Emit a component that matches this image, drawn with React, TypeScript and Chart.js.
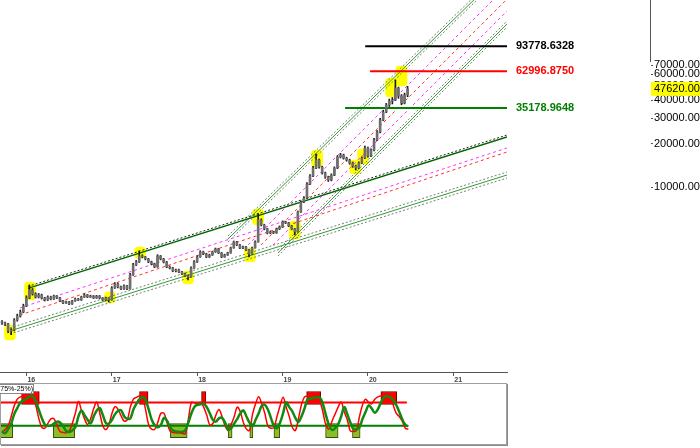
import React, { useEffect, useRef } from "react";
import { Chart, registerables } from "chart.js";
Chart.register(...registerables);

// ---- price candles (one per bar index) ----
const firstOpen = 1180;
const closes = [
  1157, 1138, 1019, 1035, 1213, 1293, 1378, 1515, 1721, 1954,
  1834, 1748, 1805, 1721, 1667, 1748, 1694, 1776, 1721, 1641,
  1589, 1615, 1564, 1641, 1694, 1667, 1748, 1805, 1748, 1776,
  1721, 1776, 1721, 1667, 1721, 1667, 2018, 2150, 2050, 1986,
  2083, 1986, 2480, 2908, 3050, 3355, 3302, 3198, 3050, 2954,
  2817, 3355, 3198, 3050, 2817, 2772, 2643, 2685, 2601, 2520,
  2441, 2402, 2772, 3050, 3302, 3575, 3463, 3302, 3408, 3575,
  3749, 3518, 3302, 3408, 3518, 3809, 4190, 3995, 3809, 3870,
  3690, 3463, 3809, 4190, 5943, 5489, 5151, 4834, 4911, 4834,
  5151, 5318, 5757, 5666, 5403, 5151, 4911, 6748, 7900, 8419,
  10510, 11936, 13553, 15390, 13770, 12519, 11748, 11200, 12127, 13553,
  16142, 16662, 15887, 15390, 14674, 13991, 13553, 14674, 15887, 18626,
  16400, 18040, 21150, 24015, 29060, 32995, 36871, 39291, 39920, 48305,
  42536, 38063, 43216, 47620,
];
const highs = [
  1200, 1175, 1150, 1060, 1240, 1330, 1420, 1560, 1780, 2116,
  2000, 1870, 1850, 1830, 1740, 1780, 1770, 1800, 1790, 1740,
  1660, 1640, 1630, 1660, 1720, 1710, 1770, 1840, 1820, 1800,
  1790, 1795, 1790, 1735, 1745, 1730, 2060, 2200, 2180, 2080,
  2120, 2100, 2540, 2980, 3120, 3632, 3420, 3330, 3230, 3090,
  2990, 3420, 3380, 3230, 3080, 2860, 2800, 2720, 2720, 2630,
  2550, 2470, 2820, 3110, 3360, 3640, 3620, 3500, 3450, 3620,
  3800, 3780, 3550, 3450, 3560, 3860, 4250, 4230, 4030, 3920,
  3900, 3720, 3860, 4260, 6537, 6050, 5550, 5200, 4980, 4960,
  5220, 5400, 5850, 5820, 5720, 5450, 5200, 6850, 8050, 8600,
  10750, 12200, 13900, 16930, 15600, 13950, 12700, 11900, 12350, 13800,
  16500, 17100, 16900, 16100, 15600, 14900, 14200, 14950, 16200, 19200,
  18900, 18400, 21700, 24600, 29800, 33900, 37800, 40500, 41500, 54850,
  49000, 43500, 44500, 49500,
];
const lows = [
  1130, 1110, 990, 960, 1020, 1190, 1270, 1360, 1500, 1700,
  1800, 1720, 1720, 1690, 1640, 1650, 1670, 1680, 1700, 1620,
  1570, 1575, 1545, 1550, 1630, 1650, 1655, 1735, 1730, 1735,
  1705, 1710, 1700, 1650, 1655, 1615, 1660, 2000, 2020, 1960,
  1970, 1960, 1975, 2460, 2880, 3020, 3250, 3150, 3010, 2910,
  2780, 2800, 3150, 3000, 2780, 2730, 2610, 2600, 2570, 2490,
  2410, 2291, 2390, 2750, 3020, 3280, 3420, 3260, 3270, 3380,
  3550, 3480, 3260, 3280, 3380, 3500, 3790, 3950, 3770, 3770,
  3650, 3302, 3440, 3790, 4170, 5400, 5080, 4760, 4770, 4780,
  4800, 5100, 5280, 5600, 5340, 5080, 4683, 4890, 6700, 7800,
  8350, 10400, 11800, 13400, 13500, 12300, 11500, 10950, 11050, 12000,
  13400, 15900, 15600, 15100, 14400, 13700, 13130, 13400, 14500, 15700,
  16100, 16200, 17800, 20900, 23700, 28700, 32600, 36000, 37500, 39500,
  41000, 37000, 37500, 42000,
];
const lastPrice = 47620;

// ---- stochastic oscillator ----
const stochK = [
  10, 17, 25, 45, 68, 82, 87, 88, 89, 89,
  86, 70, 42, 22, 20, 30, 40, 40, 26, 13,
  11, 10, 14, 30, 52, 77, 58, 40, 28, 40,
  62, 76, 52, 25, 17, 28, 52, 66, 60, 46,
  35, 38, 65, 82, 86, 89, 85, 59, 27, 18,
  18, 33, 52, 52, 32, 14, 11, 10, 10, 9,
  8, 40, 75, 74, 73, 75, 65, 48, 27, 30,
  48, 60, 45, 25, 15, 28, 45, 65, 55, 32,
  18, 15, 50, 72, 87, 72, 52, 25, 20, 22,
  45, 68, 86, 65, 45, 22, 15, 40, 70, 87,
  89, 88, 86, 85, 78, 55, 27, 18, 35, 50,
  65, 76, 55, 38, 14, 13, 15, 45, 70, 82,
  75, 72, 82, 87, 89, 90, 90, 86, 70, 52,
  45, 35, 20, 18,
];
const stochD = [
  14, 9, 18, 30, 50, 63, 75, 79, 83, 88,
  89, 78, 60, 42, 28, 25, 26, 30, 34, 32,
  24, 14, 12, 15, 22, 45, 58, 48, 38, 30,
  45, 58, 63, 48, 31, 30, 38, 50, 57, 58,
  45, 40, 41, 60, 72, 82, 87, 80, 60, 38,
  26, 22, 27, 42, 36, 22, 15, 13, 12.5, 12,
  16, 32, 52, 66, 70, 71, 72.6, 65, 52, 38,
  34, 41, 42, 32, 17, 20, 30, 40, 52, 58,
  45, 32, 24, 38, 52, 68, 70, 60, 42, 25,
  20, 32, 52, 75, 65, 56, 42, 33, 45, 62,
  82, 83, 85, 86, 86, 72, 48, 27, 16, 20,
  28, 45, 65, 50, 32, 18, 18, 22, 40, 55,
  69, 62, 53, 60, 75, 86, 89, 86, 80, 70,
  55, 39, 27, 24,
];
const oscUpperLevel = 75;
const oscLowerLevel = 25;
const oscLevelEnd = 132.5;
const obStart = [6.4, 45, 65.3, 99.7, 124];
const obEnd = [12.2, 47.8, 66.7, 104.3, 129.2];
const osStart = [-0.7, 16.8, 55.1, 74, 81.1, 89, 105.9, 114.7];
const osEnd = [3.5, 23.8, 60.6, 75.3, 82.1, 90.9, 110, 117.2];

// ---- axes ----
const xMin = -0.66;
const xMax = 165.6;
const yMin = 531;
const yMax = 195300;
const oscMin = 4.4;
const oscMax = 94.1;
const xTickIdx = [8, 36, 64, 92, 120, 148];
const xTickLabels = ["16", "17", "18", "19", "20", "21"];
const yTickValues = [10000, 20000, 30000, 40000, 50000, 60000, 70000];

// ---- horizontal levels ----
const levelValues = [93778.6328, 62996.875, 35178.9648];
const levelStart = [119.1, 120.7, 112.5];
const levelColors = ["#000000", "#ff0000", "#008000"];

// ---- highlighted swing points (index, low, high) ----
const hlIdx = [2.6, 9.2, 35.4, 45.3, 61, 81.3, 84, 96, 103.3, 115.8, 118.4, 127.6, 131];
const hlLo = [883, 1667, 1589, 3248, 2149, 3048, 5484, 4391, 13775, 12327, 14450, 41860, 49850];
const hlHi = [1120, 2218, 1893, 3868, 2642, 3807, 7070, 5844, 18040, 15390, 18330, 56610, 68480];

// ---- trend channels [x0, price0, x1, price1] ----
const c1Upper = [8.5, 2001, 165.6, 22182];
const c1UpperEdge = [8.5, 2066, 165.6, 22890];
const c1Pink = [5.9, 1468, 165.6, 18630];
const c1Red = [5.9, 1314, 165.6, 17480];
const c1Lower = [2.6, 1019, 165.6, 12130];
const c1LowerEdgeA = [2.6, 1069, 165.6, 12720];
const c1LowerEdgeB = [2.6, 971, 165.6, 11567];
const c2Upper = [74.1, 4391, 158.1, 228900];
const c2UpperEdgeA = [74.1, 4605, 158.1, 240200];
const c2UpperEdgeB = [74.1, 4187, 158.1, 218300];
const c2Pink1 = [80.7, 3992, 164.3, 228900];
const c2Red = [84.9, 3992, 168.6, 228900];
const c2Pink2 = [88.9, 3992, 172.5, 228900];
const c2Lower = [90.5, 3516, 165.6, 133500];
const c2LowerEdgeA = [90.5, 3687, 165.6, 139960];
const c2LowerEdgeB = [90.5, 3353, 165.6, 127200];

const FONT = '"Liberation Sans", Arial, sans-serif';

function seg(arr: number[], color: string, width: number, dash: number[], order: number) {
  return {
    type: "line" as const,
    data: [
      { x: arr[0], y: arr[1] },
      { x: arr[2], y: arr[3] },
    ],
    borderColor: color,
    borderWidth: width,
    borderDash: dash,
    pointRadius: 0,
    fill: false,
    tension: 0,
    order,
  };
}

export default function App() {
  const mainRef = useRef<HTMLCanvasElement | null>(null);
  const oscRef = useRef<HTMLCanvasElement | null>(null);

  useEffect(() => {
    if (!mainRef.current || !oscRef.current) return;
    const opens = closes.map((c, i) => (i === 0 ? firstOpen : closes[i - 1]));
    const green = "#2f9e2f";
    const gray = "#7a7a7a";
    const pink = "#ff33ff";
    const red = "#ff3030";

    const mainDatasets: any[] = [
      {
        type: "bar",
        data: hlIdx.map((x, i) => ({ x, y: [hlLo[i], hlHi[i]] })),
        backgroundColor: "#ffff00",
        borderWidth: 0,
        borderRadius: 4,
        borderSkipped: false,
        barThickness: 11,
        grouped: false,
        order: 40,
      },
      seg(c1Upper, "#006400", 1.3, [], 20),
      seg(c1UpperEdge, "#222222", 1, [2, 2], 20),
      seg(c1Pink, pink, 1, [3, 3], 20),
      seg(c1Red, red, 1, [3, 3], 20),
      seg(c1Lower, green, 1, [], 20),
      seg(c1LowerEdgeA, gray, 1, [2, 2], 20),
      seg(c1LowerEdgeB, gray, 1, [2, 2], 20),
      seg(c2Upper, green, 1, [], 20),
      seg(c2UpperEdgeA, gray, 1, [2, 2], 20),
      seg(c2UpperEdgeB, gray, 1, [2, 2], 20),
      seg(c2Pink1, pink, 1, [3, 3], 20),
      seg(c2Red, red, 1, [3, 3], 20),
      seg(c2Pink2, pink, 1, [3, 3], 20),
      seg(c2Lower, green, 1, [], 20),
      seg(c2LowerEdgeA, gray, 1, [2, 2], 20),
      seg(c2LowerEdgeB, gray, 1, [2, 2], 20),
      ...levelValues.map((v, i) => seg([levelStart[i], v, xMax, v], levelColors[i], 2, [], 10)),
      {
        type: "bar",
        data: closes.map((_, i) => ({ x: i, y: [lows[i], highs[i]] })),
        backgroundColor: "#1a1a1a",
        borderWidth: 0,
        barThickness: 1,
        grouped: false,
        order: 2,
      },
      {
        type: "bar",
        data: closes.map((c, i) => ({ x: i, y: [opens[i], c] })),
        backgroundColor: "#6e6e6e",
        borderWidth: 0,
        barThickness: 2,
        grouped: false,
        order: 1,
      },
    ];

    const mainDecor = {
      id: "mainDecor",
      afterDraw(chart: any) {
        const ctx = chart.ctx;
        const ys = chart.scales.y;
        const area = chart.chartArea;
        ctx.save();
        ctx.textBaseline = "middle";
        ctx.textAlign = "left";
        ctx.font = `bold 11px ${FONT}`;
        levelValues.forEach((v, i) => {
          ctx.fillStyle = levelColors[i];
          ctx.fillText(v.toFixed(4), area.right + 9, ys.getPixelForValue(v));
        });
        ctx.strokeStyle = "#555";
        ctx.lineWidth = 1;
        ctx.beginPath();
        ctx.moveTo(650.5, 0);
        ctx.lineTo(650.5, 62);
        ctx.stroke();
        ctx.fillStyle = "#555";
        yTickValues.forEach((v) => {
          const py = Math.round(ys.getPixelForValue(v));
          ctx.fillRect(651, py, 2, 1);
        });
        const py = ys.getPixelForValue(lastPrice);
        ctx.fillStyle = "#ffff00";
        ctx.fillRect(651, py - 7, 49, 14);
        ctx.fillStyle = "#000";
        ctx.font = `11px ${FONT}`;
        ctx.fillText(lastPrice.toFixed(2), 654, py + 0.5);
        ctx.restore();
      },
    };

    const main = new Chart(mainRef.current, {
      type: "bar",
      data: { datasets: mainDatasets },
      options: {
        animation: false,
        responsive: false,
        events: [],
        layout: { padding: 0 },
        plugins: { legend: { display: false }, tooltip: { enabled: false } },
        scales: {
          x: {
            type: "linear",
            min: xMin,
            max: xMax,
            offset: false,
            grid: { display: true, drawOnChartArea: false, drawTicks: true, tickLength: 4, color: "#555", offset: false },
            border: { display: true, color: "#555", width: 1 },
            ticks: {
              autoSkip: false,
              maxRotation: 0,
              align: "start",
              labelOffset: 1,
              padding: 0,
              color: "#444",
              font: { family: FONT, size: 7, weight: "bold" },
              callback: (_v: any, i: number) => xTickLabels[i] ?? "",
            },
            afterBuildTicks: (s: any) => {
              s.ticks = xTickIdx.map((v) => ({ value: v }));
            },
            afterFit: (s: any) => {
              s.height = 11;
              s.paddingLeft = 0;
              s.paddingRight = 0;
            },
          },
          y: {
            type: "logarithmic",
            position: "right",
            min: yMin,
            max: yMax,
            beginAtZero: false,
            grid: { display: false },
            border: { display: false },
            ticks: {
              autoSkip: false,
              padding: 139,
              color: "#000",
              font: { family: FONT, size: 11 },
              callback: (v: any) => Number(v).toFixed(2),
            },
            afterBuildTicks: (s: any) => {
              s.ticks = yTickValues.map((v) => ({ value: v }));
            },
            afterFit: (s: any) => {
              s.width = 193;
              s.paddingTop = 0;
              s.paddingBottom = 0;
            },
          },
        },
      } as any,
      plugins: [mainDecor],
    } as any);

    const oscDecor = {
      id: "oscDecor",
      afterDraw(chart: any) {
        const ctx = chart.ctx;
        const w = chart.width;
        const h = chart.height;
        ctx.save();
        ctx.strokeStyle = "#a0a0a0";
        ctx.lineWidth = 1;
        ctx.strokeRect(0.5, 0.5, w - 2, h - 2);
        ctx.strokeStyle = "#8a8a8a";
        ctx.beginPath();
        ctx.moveTo(w - 0.5, 1);
        ctx.lineTo(w - 0.5, h);
        ctx.moveTo(1, h - 0.5);
        ctx.lineTo(w, h - 0.5);
        ctx.stroke();
        ctx.fillStyle = "#fff";
        ctx.fillRect(0, 1, 34, 10);
        ctx.strokeStyle = "#888";
        ctx.strokeRect(-0.5, 1.5, 34, 9);
        ctx.fillStyle = "#000";
        ctx.font = `7px ${FONT}`;
        ctx.textBaseline = "middle";
        ctx.textAlign = "left";
        ctx.fillText("(75%-25%)", -2, 6.5);
        ctx.restore();
      },
    };

    const osc = new Chart(oscRef.current, {
      type: "line",
      data: {
        datasets: [
          {
            type: "bar",
            indexAxis: "y",
            data: obStart.map((s, i) => ({ x: [s, obEnd[i]], y: (oscUpperLevel + oscMax) / 2 })),
            backgroundColor: "#ff0000",
            borderColor: "#6a0000",
            borderWidth: 1,
            borderSkipped: false,
            barThickness: 13,
            grouped: false,
            order: 10,
          },
          {
            type: "bar",
            indexAxis: "y",
            data: osStart.map((s, i) => ({ x: [s, osEnd[i]], y: (oscLowerLevel + oscMin) / 2 })),
            backgroundColor: "#8cbf26",
            borderColor: "#3c4a10",
            borderWidth: 1,
            borderSkipped: false,
            barThickness: 14,
            grouped: false,
            order: 10,
          },
          {
            type: "line",
            data: [
              { x: xMin, y: oscUpperLevel },
              { x: oscLevelEnd, y: oscUpperLevel },
            ],
            borderColor: "#ff0000",
            borderWidth: 2,
            pointRadius: 0,
            order: 5,
          },
          {
            type: "line",
            data: [
              { x: xMin, y: oscLowerLevel },
              { x: oscLevelEnd, y: oscLowerLevel },
            ],
            borderColor: "#008000",
            borderWidth: 2,
            pointRadius: 0,
            order: 5,
          },
          {
            type: "line",
            data: stochK.map((v, i) => ({ x: i, y: v })),
            borderColor: "#ff0000",
            borderWidth: 1.5,
            pointRadius: 0,
            tension: 0.35,
            order: 2,
          },
          {
            type: "line",
            data: stochD.map((v, i) => ({ x: i, y: v })),
            borderColor: "#118a11",
            borderWidth: 2.5,
            pointRadius: 0,
            tension: 0.35,
            order: 1,
          },
        ],
      },
      options: {
        animation: false,
        responsive: false,
        events: [],
        layout: { padding: 0 },
        plugins: { legend: { display: false }, tooltip: { enabled: false } },
        scales: {
          x: { type: "linear", display: false, min: xMin, max: xMax, offset: false },
          y: { type: "linear", display: false, min: oscMin, max: oscMax },
        },
      } as any,
      plugins: [oscDecor],
    } as any);

    return () => {
      main.destroy();
      osc.destroy();
    };
  }, []);

  return (
    <div style={{ position: "absolute", left: 0, top: 0, width: 700, height: 448, background: "#fff", overflow: "hidden" }}>
      <canvas
        ref={mainRef}
        width={700}
        height={383}
        style={{ position: "absolute", left: 0, top: 0, width: 700, height: 383 }}
      />
      <canvas
        ref={oscRef}
        width={508}
        height={63}
        style={{ position: "absolute", left: 0, top: 383, width: 508, height: 63 }}
      />
    </div>
  );
}
